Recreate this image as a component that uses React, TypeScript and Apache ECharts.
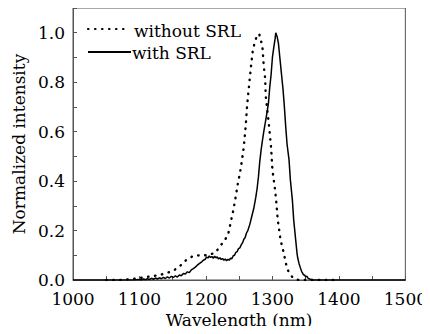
import React, { useEffect, useRef } from "react";
import * as echarts from "echarts";

const xTicks = [1000, 1100, 1200, 1300, 1400, 1500];
const yTicks = [0.0, 0.2, 0.4, 0.6, 0.8, 1.0];
const seriesNames = ["without SRL", "with SRL"];

const withoutX = [1050, 1070, 1080, 1090, 1100, 1110, 1120, 1130, 1139, 1150, 1160, 1170, 1181, 1192, 1202, 1214, 1225, 1233, 1237, 1241, 1245, 1248, 1251, 1254, 1257, 1260, 1262, 1265, 1268, 1270, 1273, 1277, 1280, 1282, 1285, 1287, 1289, 1290, 1292, 1295, 1298, 1300, 1302, 1304, 1306, 1308, 1310, 1312, 1316, 1319, 1322, 1326, 1330, 1335, 1340, 1400];
const withoutY = [0, 0, 0.002, 0.004, 0.008, 0.012, 0.016, 0.02, 0.027, 0.036, 0.054, 0.08, 0.098, 0.1, 0.1, 0.11, 0.15, 0.18, 0.23, 0.28, 0.34, 0.39, 0.43, 0.48, 0.54, 0.628, 0.708, 0.79, 0.87, 0.918, 0.958, 0.99, 0.995, 0.978, 0.94, 0.864, 0.817, 0.742, 0.695, 0.62, 0.534, 0.445, 0.405, 0.364, 0.31, 0.243, 0.205, 0.165, 0.121, 0.084, 0.047, 0.025, 0.012, 0.003, 0, 0];

const withX = [1000, 1090, 1100, 1103, 1106, 1109, 1112, 1115, 1118, 1121, 1124, 1127, 1130, 1133, 1136, 1139, 1142, 1145, 1148, 1151, 1154, 1157, 1160, 1163, 1166, 1169, 1172, 1175, 1178, 1181, 1184, 1187, 1190, 1193, 1196, 1199, 1201, 1203, 1205, 1207, 1209, 1211, 1213, 1215, 1217, 1219, 1221, 1223, 1225, 1227, 1229, 1231, 1233, 1235, 1237, 1239, 1241, 1243, 1245, 1247, 1249, 1251, 1253, 1255, 1257, 1259, 1261, 1263, 1266, 1269, 1272, 1275, 1277, 1279, 1281, 1283, 1285, 1287, 1290, 1292, 1294, 1296, 1298, 1300, 1302, 1304, 1305, 1307, 1309, 1311, 1313, 1316, 1318, 1320, 1322, 1325, 1327, 1330, 1332, 1335, 1337, 1338, 1340, 1342, 1343, 1344, 1345, 1346, 1347, 1348, 1350, 1352, 1354, 1357, 1362, 1500];
const withY = [0, 0, 0.002, 0, 0.004, 0.001, 0.005, 0.002, 0.007, 0.003, 0.008, 0.004, 0.009, 0.005, 0.011, 0.006, 0.013, 0.008, 0.015, 0.01, 0.017, 0.012, 0.02, 0.017, 0.026, 0.024, 0.033, 0.03, 0.041, 0.046, 0.052, 0.06, 0.066, 0.072, 0.08, 0.084, 0.093, 0.089, 0.097, 0.091, 0.095, 0.088, 0.096, 0.09, 0.093, 0.085, 0.09, 0.083, 0.087, 0.08, 0.085, 0.078, 0.084, 0.08, 0.088, 0.086, 0.098, 0.1, 0.112, 0.115, 0.127, 0.13, 0.142, 0.15, 0.165, 0.172, 0.19, 0.2, 0.225, 0.258, 0.29, 0.335, 0.37, 0.418, 0.48, 0.526, 0.565, 0.6, 0.648, 0.68, 0.715, 0.78, 0.83, 0.9, 0.94, 0.975, 1.0, 0.985, 0.958, 0.904, 0.85, 0.77, 0.7, 0.62, 0.55, 0.486, 0.405, 0.324, 0.243, 0.162, 0.108, 0.09, 0.067, 0.05, 0.042, 0.034, 0.03, 0.025, 0.02, 0.022, 0.013, 0.015, 0.006, 0.003, 0, 0];

const FONT = "'DejaVu Serif', 'Liberation Serif', serif";
const DOT = [0.5, 6.5];

export default function App() {
  const ref = useRef<HTMLDivElement>(null);
  useEffect(() => {
    if (!ref.current) return;
    const chart = echarts.init(ref.current, null, { renderer: "svg" });
    const axisColor = "#555";
    const txt = { fontFamily: FONT, fontSize: 17, fill: "#000" };
    chart.setOption({
      animation: false,
      backgroundColor: "#fff",
      grid: { left: 73, top: 8, right: 23, bottom: 54, show: true, borderColor: axisColor, borderWidth: 1 },
      graphic: [
        { type: "line", shape: { x1: 88, y1: 29, x2: 130, y2: 29 }, style: { stroke: "#000", lineWidth: 2.2, lineDash: DOT, lineCap: "round" } },
        { type: "text", x: 134, y: 31, style: { ...txt, text: seriesNames[0], verticalAlign: "middle" } },
        { type: "line", shape: { x1: 88, y1: 52, x2: 131, y2: 52 }, style: { stroke: "#000", lineWidth: 1.8 } },
        { type: "text", x: 132, y: 53, style: { ...txt, text: seriesNames[1], verticalAlign: "middle" } },
      ],
      xAxis: {
        type: "value",
        min: xTicks[0],
        max: xTicks[xTicks.length - 1],
        interval: 100,
        name: "Wavelength (nm)",
        nameLocation: "middle",
        nameGap: 28,
        nameTextStyle: { fontFamily: FONT, fontSize: 17, color: "#000" },
        axisLine: { lineStyle: { color: axisColor, width: 1 } },
        axisTick: { inside: true, length: 4, lineStyle: { color: axisColor } },
        minorTick: { show: true, splitNumber: 2, length: 4, lineStyle: { color: axisColor } },
        splitLine: { show: false },
        axisLabel: { fontFamily: FONT, fontSize: 17, color: "#000", margin: 10, formatter: (v: number) => String(v) },
      },
      yAxis: {
        type: "value",
        min: 0,
        max: 1.1,
        interval: 0.2,
        name: "Normalized intensity",
        nameLocation: "middle",
        nameGap: 46,
        nameTextStyle: { fontFamily: FONT, fontSize: 17, color: "#000" },
        axisLine: { show: true, lineStyle: { color: axisColor, width: 1 } },
        axisTick: { inside: true, length: 4, lineStyle: { color: axisColor } },
        minorTick: { show: true, splitNumber: 2, length: 4, lineStyle: { color: axisColor } },
        splitLine: { show: false },
        axisLabel: {
          fontFamily: FONT,
          fontSize: 17,
          color: "#000",
          margin: 8,
          showMaxLabel: false,
          formatter: (v: number) => {
            const m = yTicks.find((t) => Math.abs(t - v) < 1e-6);
            return m === undefined ? "" : m.toFixed(1);
          },
        },
      },
      series: [
        {
          name: seriesNames[0],
          type: "line",
          showSymbol: false,
          symbol: "none",
          color: "#000",
          lineStyle: { color: "#000", width: 2.4, type: DOT, cap: "round" },
          data: withoutX.map((x, i) => [x, withoutY[i]]),
          z: 3,
        },
        {
          name: seriesNames[1],
          type: "line",
          showSymbol: false,
          symbol: "none",
          color: "#000",
          lineStyle: { color: "#000", width: 1.5 },
          data: withX.map((x, i) => [x, withY[i]]),
          z: 4,
        },
      ],
    });
    return () => chart.dispose();
  }, []);
  return <div ref={ref} style={{ width: 430, height: 334, margin: -8 }} />;
}
